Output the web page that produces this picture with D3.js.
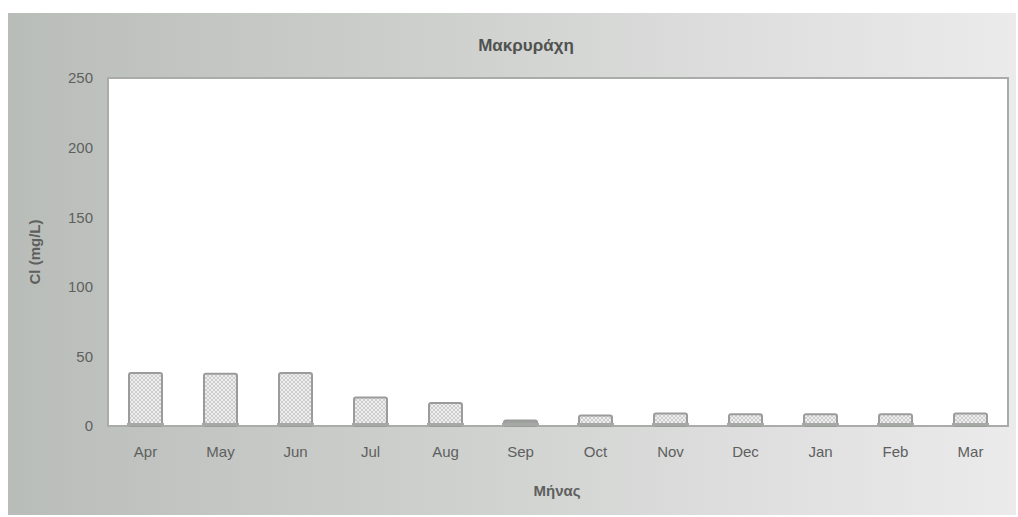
<!DOCTYPE html>
<html><head><meta charset="utf-8">
<script src="https://cdn.jsdelivr.net/npm/d3@7"></script>
<style>body{margin:0;background:#fff;} svg{display:block;}</style>
</head><body>
<script>
const months = ["Apr","May","Jun","Jul","Aug","Sep","Oct","Nov","Dec","Jan","Feb","Mar"];
const chloride = [38, 37.5, 38, 20.5, 16.5, 4, 7.5, 9, 8.5, 8.5, 8.5, 9];
const yTicks = [0, 50, 100, 150, 200, 250];
const title = "Μακρυράχη";
const xTitle = "Μήνας";
const yTitle = "Cl (mg/L)";

const W = 1018, H = 517;
const FONT = "Liberation Sans, Arial, sans-serif";
const svg = d3.select("body").append("svg").attr("width", W).attr("height", H);
const defs = svg.append("defs");
const g1 = defs.append("linearGradient").attr("id","bg").attr("x1","0").attr("x2","1").attr("y1","0").attr("y2","0");
g1.append("stop").attr("offset","0").attr("stop-color","#b9bdb9");
g1.append("stop").attr("offset","0.45").attr("stop-color","#cfd1cf");
g1.append("stop").attr("offset","1").attr("stop-color","#ebebeb");
const pat = defs.append("pattern").attr("id","hatch").attr("patternUnits","userSpaceOnUse").attr("width",4).attr("height",4);
pat.append("rect").attr("width",4).attr("height",4).attr("fill","#eeeeee");
pat.append("path").attr("d","M0,0L4,4M4,0L0,4").attr("stroke","#c4c4c4").attr("stroke-width",0.8);

svg.append("rect").attr("x",8).attr("y",13).attr("width",1008).attr("height",502).attr("fill","url(#bg)");

const m = {left:108, right:1008, top:78, bottom:426};
const x = d3.scaleBand().domain(months).range([m.left, m.right]).paddingInner(0.56).paddingOuter(0.28);
const y = d3.scaleLinear().domain([0,250]).range([m.bottom, m.top]);

svg.append("rect").attr("x",m.left).attr("y",m.top).attr("width",m.right-m.left).attr("height",m.bottom-m.top)
  .attr("fill","#ffffff").attr("stroke","#a9aca9").attr("stroke-width",2);

svg.append("g").selectAll("rect").data(months).join("rect")
  .attr("x", d => x(d)).attr("width", x.bandwidth())
  .attr("y", (d,i) => y(chloride[i])).attr("height", (d,i) => y(0) - y(chloride[i]))
  .attr("fill", (d,i) => i === 5 ? "#a0a2a0" : "url(#hatch)")
  .attr("stroke", "#9a9c9a").attr("stroke-width", 2).attr("rx", 2);

svg.append("g").selectAll("rect").data(months).join("rect")
  .attr("x", d => x(d) - 2).attr("width", x.bandwidth() + 4)
  .attr("y", y(0) - 3).attr("height", 3).attr("fill", "#a6a8a6");

const yAxis = d3.axisLeft(y).tickValues(yTicks).tickSize(0).tickPadding(15);
const ya = svg.append("g").attr("transform",`translate(${m.left},0)`).call(yAxis);
ya.select(".domain").remove();
ya.selectAll("text").attr("font-family",FONT).attr("font-size",15).attr("fill","#5e605e");

const xAxis = d3.axisBottom(x).tickSize(0).tickPadding(20);
const xa = svg.append("g").attr("transform",`translate(0,${m.bottom})`).call(xAxis);
xa.select(".domain").remove();
xa.selectAll("text").attr("font-family",FONT).attr("font-size",15).attr("fill","#5e605e");

svg.append("text").attr("x",526).attr("y",51).attr("text-anchor","middle")
  .attr("font-family",FONT).attr("font-weight","bold").attr("font-size",17).attr("fill","#505250").text(title);
svg.append("text").attr("x",557).attr("y",496).attr("text-anchor","middle")
  .attr("font-family",FONT).attr("font-weight","bold").attr("font-size",15).attr("fill","#5e605e").text(xTitle);
svg.append("text").attr("transform","translate(40,252) rotate(-90)").attr("text-anchor","middle")
  .attr("font-family",FONT).attr("font-weight","bold").attr("font-size",15).attr("fill","#5e605e").text(yTitle);
</script>
</body></html>
